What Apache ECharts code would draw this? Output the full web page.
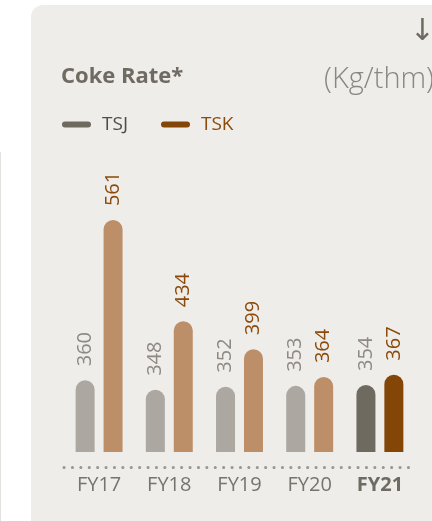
<!DOCTYPE html>
<html>
<head>
<meta charset="utf-8">
<script src="https://cdn.jsdelivr.net/npm/echarts@6/dist/echarts.min.js"></script>
<style>
  html, body { margin: 0; padding: 0; background: #fff; }
  #chart { width: 432px; height: 521px; }
</style>
</head>
<body>
<div id="chart"></div>
<script>
const categories = ['FY17', 'FY18', 'FY19', 'FY20', 'FY21']
const tsjValues = [360, 348, 352, 353, 354]
const tskValues = [561, 434, 399, 364, 367]
const seriesNames = ['TSJ', 'TSK']

const FONT = '"Open Sans", "Noto Sans", sans-serif'
const last = categories.length - 1

// past years faded, latest year in full colour
const tsjColor = (i) => (i === last ? '#6f6a5f' : '#aca7a0')
const tskColor = (i) => (i === last ? '#844607' : '#bd8f69')

const valueLabel = (color) => ({
  show: true,
  position: 'top',
  distance: 14,
  rotate: 90,
  align: 'left',
  verticalAlign: 'middle',
  fontFamily: FONT,
  fontSize: 20,
  color: color,
})

const dom = document.getElementById('chart')
const chart = echarts.init(dom, null, { renderer: 'canvas' })

let option = {
  animation: false,
  backgroundColor: '#ffffff',
  graphic: [
    {
      type: 'rect',
      z: -10,
      shape: { x: 31, y: 5, width: 440, height: 560, r: 12 },
      style: { fill: '#efedea' },
    },
    {
      type: 'rect',
      z: -10,
      shape: { x: 0, y: 152, width: 1, height: 380 },
      style: { fill: '#e4e2de' },
    },
    {
      type: 'text',
      left: 61,
      top: 66,
      style: {
        text: 'Coke Rate*',
        font: 'bold 22px ' + FONT,
        fill: '#6f6a62',
      },
    },
    {
      type: 'text',
      right: -2,
      top: 65,
      style: {
        text: '(Kg/thm)',
        font: '300 29px ' + FONT,
        fill: '#8b867f',
      },
    },
    {
      type: 'text',
      right: -3,
      top: 17,
      style: {
        text: '↓',
        font: '30px "DejaVu Sans", sans-serif',
        fill: '#6f6a62',
      },
    },
  ],
  legend: {
    left: 62,
    top: 115,
    padding: 0,
    itemWidth: 29,
    itemHeight: 6,
    itemGap: 33,
    icon: 'path://M3,0 H26 A3,3 0 0 1 26,6 H3 A3,3 0 0 1 3,0 Z',
    textStyle: { fontFamily: FONT, fontSize: 19, padding: [0, 0, 0, 6] },
    data: [
      { name: seriesNames[0], itemStyle: { color: '#6f6a5f' }, textStyle: { color: '#514c46' } },
      { name: seriesNames[1], itemStyle: { color: '#844607' }, textStyle: { color: '#8b4a0b' } },
    ],
  },
  grid: {
    left: 64,
    width: 351,
    top: 189,
    bottom: 69,
    containLabel: false,
  },
  xAxis: {
    type: 'category',
    data: categories,
    offset: 15,
    axisLine: {
      show: true,
      lineStyle: { color: '#9a958e', width: 3, type: [0.1, 8.3], cap: 'round' },
    },
    axisTick: { show: false },
    axisLabel: {
      interval: 0,
      margin: 8,
      fontFamily: FONT,
      fontSize: 20,
      color: '#78736b',
      formatter: (v, i) => (i === last ? '{b|' + v + '}' : v),
      rich: {
        b: { fontFamily: FONT, fontSize: 20, fontWeight: 'bold', color: '#6f6a62' },
      },
    },
  },
  yAxis: {
    type: 'value',
    min: 270,
    max: 600,
    show: false,
    splitLine: { show: false },
  },
  series: [
    {
      name: seriesNames[0],
      type: 'bar',
      barWidth: 19,
      barGap: '47%',
      data: tsjValues.map((v, i) => ({
        value: v,
        itemStyle: { color: tsjColor(i), borderRadius: [10, 10, 0, 0] },
      })),
      label: valueLabel('#8e8983'),
    },
    {
      name: seriesNames[1],
      type: 'bar',
      barWidth: 19,
      data: tskValues.map((v, i) => ({
        value: v,
        itemStyle: { color: tskColor(i), borderRadius: [10, 10, 0, 0] },
      })),
      label: valueLabel('#8b4a0b'),
    },
  ],
}

chart.setOption(option)
window.addEventListener('resize', () => chart.resize())
</script>
</body>
</html>
